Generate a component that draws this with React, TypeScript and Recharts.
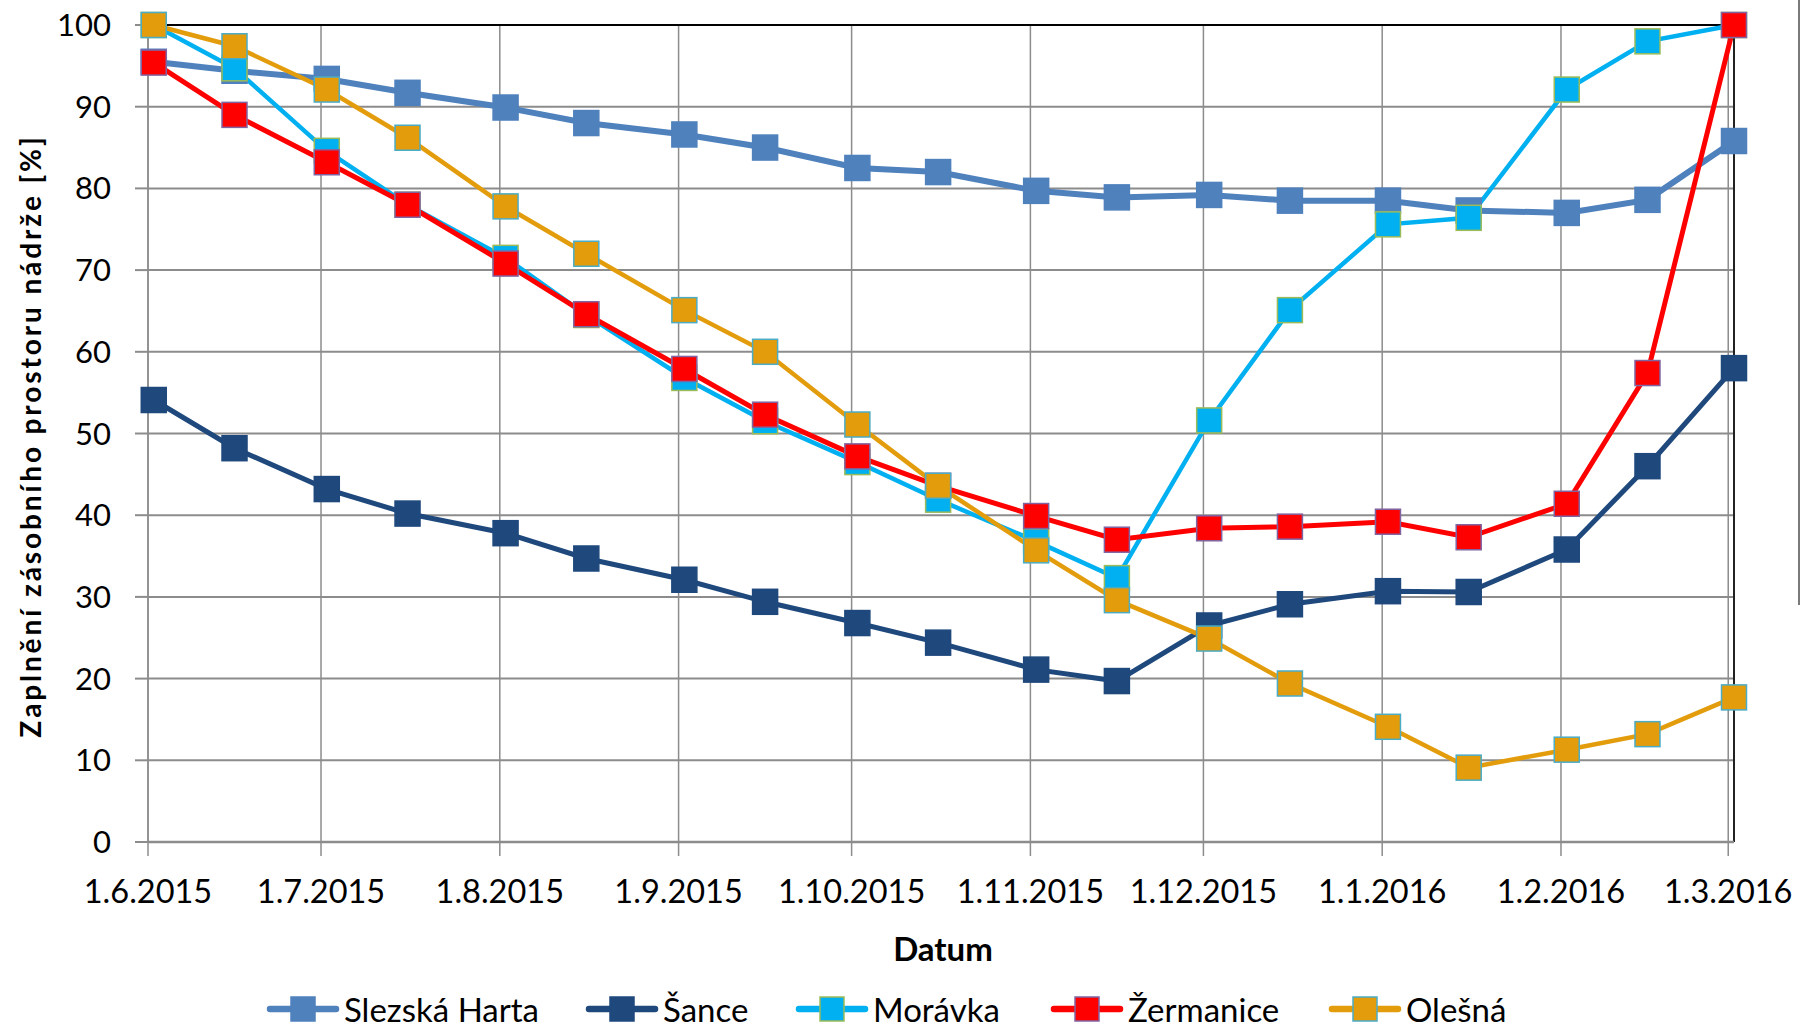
import React from 'react';
import { LineChart, Line, XAxis, YAxis, CartesianGrid, ReferenceLine } from 'recharts';

// measurement dates (2nd and 16th of each month)
const dates = [
  '2.6.2015', '16.6.2015', '2.7.2015', '16.7.2015', '2.8.2015', '16.8.2015',
  '2.9.2015', '16.9.2015', '2.10.2015', '16.10.2015', '2.11.2015', '16.11.2015',
  '2.12.2015', '16.12.2015', '2.1.2016', '16.1.2016', '2.2.2016', '16.2.2016', '2.3.2016',
];

const slezskaHarta = [95.5, 94.4, 93.4, 91.7, 89.9, 88.0, 86.6, 85.0, 82.5, 82.0, 79.7, 78.9, 79.2, 78.5, 78.5, 77.3, 77.0, 78.6, 85.8];
const sance = [54.1, 48.2, 43.2, 40.2, 37.8, 34.7, 32.1, 29.4, 26.8, 24.4, 21.1, 19.7, 26.5, 29.1, 30.7, 30.6, 35.8, 46.0, 58.0];
const moravka = [100, 94.7, 84.6, 78.0, 71.5, 64.5, 56.8, 51.5, 46.5, 41.9, 36.8, 32.3, 51.6, 65.1, 75.6, 76.4, 92.1, 98.0, 100];
const zermanice = [95.4, 89.0, 83.2, 78.0, 70.8, 64.6, 57.9, 52.3, 47.2, 43.6, 39.9, 37.0, 38.4, 38.6, 39.2, 37.3, 41.4, 57.4, 100];
const olesna = [100, 97.4, 92.1, 86.2, 77.8, 72.0, 65.1, 60.0, 51.1, 43.6, 35.7, 29.6, 24.9, 19.4, 14.1, 9.1, 11.3, 13.2, 17.7];

const monthTicks = [
  '1.6.2015', '1.7.2015', '1.8.2015', '1.9.2015', '1.10.2015',
  '1.11.2015', '1.12.2015', '1.1.2016', '1.2.2016', '1.3.2016',
];
const axisStart = '1.6.2015';
const axisEnd = '2.3.2016';
const yTicks = [0, 10, 20, 30, 40, 50, 60, 70, 80, 90, 100];

const FONT = 'Lato, "Open Sans", sans-serif';
const GRID = '#8c8c8c';

const toTime = (s: string) => {
  const [d, m, y] = s.split('.').map(Number);
  return Date.UTC(y, m - 1, d);
};
const fmtDate = (t: number) => {
  const d = new Date(t);
  return `${d.getUTCDate()}.${d.getUTCMonth() + 1}.${d.getUTCFullYear()}`;
};

const series = [
  { key: 'sh', name: 'Slezská Harta', values: slezskaHarta, color: '#4F81BD', border: '#4F81BD', width: 6 },
  { key: 'sa', name: 'Šance', values: sance, color: '#1F497D', border: '#1F497D', width: 5 },
  { key: 'mo', name: 'Morávka', values: moravka, color: '#00B0F0', border: '#9BBB59', width: 4.5 },
  { key: 'ze', name: 'Žermanice', values: zermanice, color: '#FF0000', border: '#8064A2', width: 5 },
  { key: 'ol', name: 'Olešná', values: olesna, color: '#E39C0C', border: '#4BACC6', width: 4.5 },
];

// left edge of each legend entry
const legendLeft = [266, 585, 795, 1050, 1328];

const data = dates.map((d, i) => {
  const row: Record<string, number> = { t: toTime(d) };
  series.forEach(s => { row[s.key] = s.values[i]; });
  return row;
});

const MARK = 25;

function squareDot(fill: string, stroke: string) {
  return (p: any) => {
    if (p.cx == null || p.cy == null) return <g key={p.index} />;
    return (
      <rect
        key={p.index}
        x={p.cx - MARK / 2}
        y={p.cy - MARK / 2}
        width={MARK}
        height={MARK}
        fill={fill}
        stroke={stroke}
        strokeWidth={1.5}
      />
    );
  };
}

export default function App() {
  return (
    <div style={{ position: 'absolute', left: 0, top: 0, width: 1800, height: 1029, background: '#fff', overflow: 'hidden', fontFamily: FONT }}>
      <LineChart
        width={1800}
        height={1029}
        data={data}
        margin={{ top: 25, right: 66, bottom: 127, left: 38 }}
        style={{ fontFamily: FONT }}
      >
        <CartesianGrid horizontal={true} vertical={false} stroke={GRID} strokeWidth={2} />
        <CartesianGrid horizontal={false} vertical={true} stroke={GRID} strokeWidth={1.5} />
        <XAxis
          dataKey="t"
          type="number"
          domain={[toTime(axisStart), toTime(axisEnd)]}
          ticks={monthTicks.map(toTime)}
          tickFormatter={fmtDate}
          height={60}
          tickSize={14}
          tickMargin={24}
          interval={0}
          axisLine={{ stroke: GRID, strokeWidth: 2.5 }}
          tickLine={{ stroke: GRID, strokeWidth: 1.5 }}
          tick={{ fontSize: 32.5, fill: '#000', fontFamily: FONT }}
        />
        <YAxis
          type="number"
          domain={[0, 100]}
          ticks={yTicks}
          width={110}
          tickSize={13}
          tickMargin={24}
          interval={0}
          axisLine={{ stroke: GRID, strokeWidth: 1.5 }}
          tickLine={{ stroke: GRID, strokeWidth: 2 }}
          tick={{ fontSize: 31, fill: '#000', fontFamily: FONT }}
        />
        <ReferenceLine y={100} stroke="#000" strokeWidth={2} />
        <ReferenceLine x={toTime(axisEnd)} stroke="#222" strokeWidth={2} />
        {series.map(s => (
          <Line
            key={s.key}
            dataKey={s.key}
            name={s.name}
            type="linear"
            stroke={s.color}
            strokeWidth={s.width}
            dot={squareDot(s.color, s.border)}
            activeDot={false}
            isAnimationActive={false}
          />
        ))}
      </LineChart>

      <div
        style={{
          position: 'absolute', left: 30, top: 436,
          transform: 'translate(-50%, -50%) rotate(-90deg)',
          whiteSpace: 'nowrap', fontWeight: 700, fontSize: 28, letterSpacing: 2.9, color: '#000',
        }}
      >
        Zaplnění zásobního prostoru nádrže [%]
      </div>
      <div
        style={{
          position: 'absolute', left: 943, top: 948,
          transform: 'translate(-50%, -50%)',
          whiteSpace: 'nowrap', fontWeight: 700, fontSize: 33, color: '#000',
        }}
      >
        Datum
      </div>

      {series.map((s, i) => (
        <div
          key={s.key}
          style={{ position: 'absolute', left: legendLeft[i], top: 993, height: 32, display: 'flex', alignItems: 'center' }}
        >
          <svg width={74} height={30} style={{ display: 'block' }}>
            <line x1={4} y1={15} x2={70} y2={15} stroke={s.color} strokeWidth={6.5} strokeLinecap="round" />
            <rect x={37 - 12} y={15 - 12} width={24} height={24} fill={s.color} stroke={s.border} strokeWidth={1.5} />
          </svg>
          <span style={{ fontSize: 33, lineHeight: '32px', marginLeft: 4, color: '#000', whiteSpace: 'nowrap' }}>{s.name}</span>
        </div>
      ))}

      <div style={{ position: 'absolute', left: 1798, top: 0, width: 1.5, height: 605, background: '#7a7a7a' }} />
    </div>
  );
}
